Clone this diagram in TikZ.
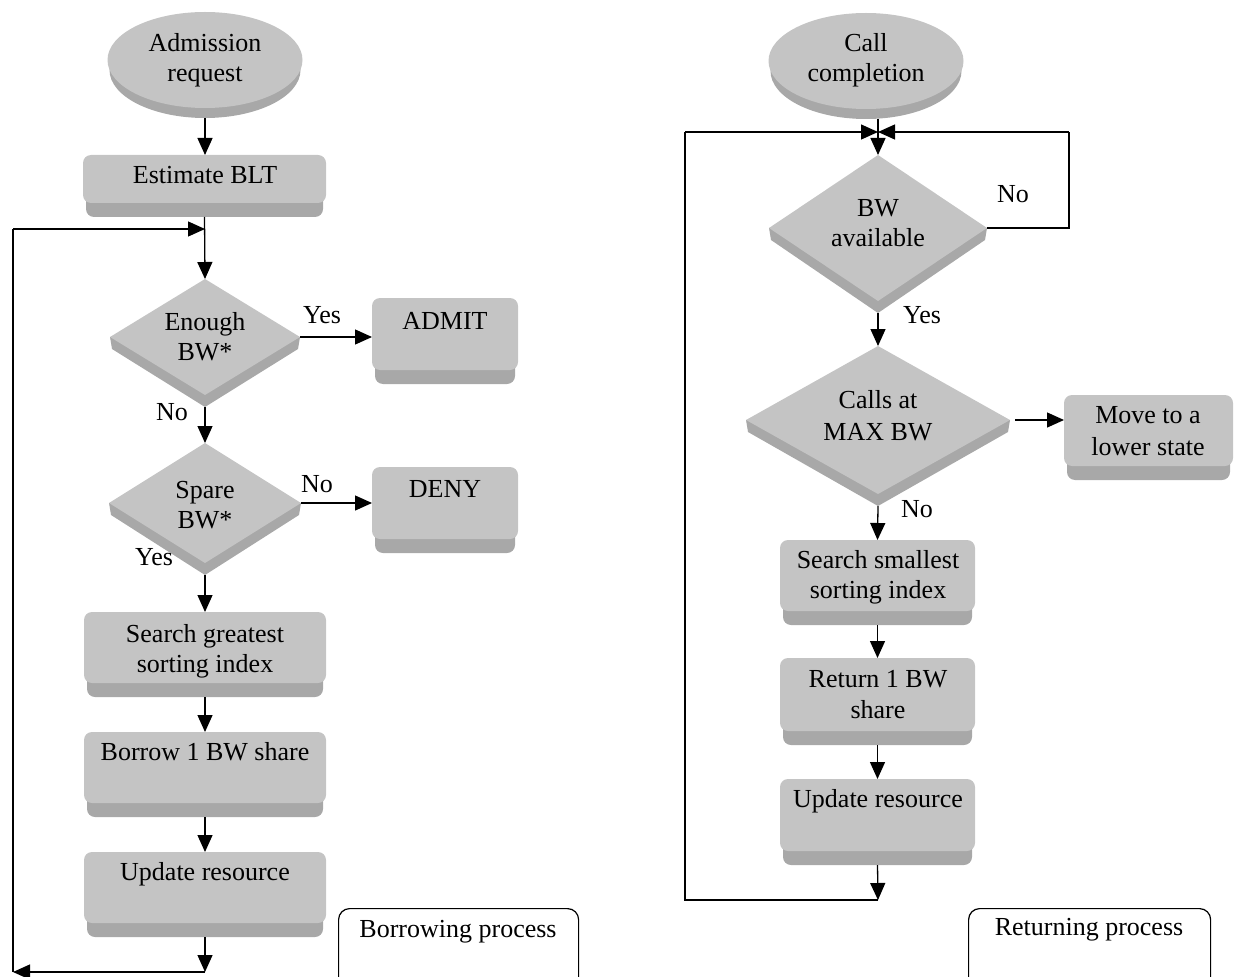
\documentclass[tikz,border=0pt]{standalone}
\usepackage{fontspec}
\setmainfont{Liberation Serif}
\usetikzlibrary{arrows.meta,shapes.geometric}
\definecolor{facec}{HTML}{C4C4C4}
\definecolor{bandc}{HTML}{A8A8A8}
\tikzset{
  lbl/.style={anchor=base, inner sep=0pt, font=\fontsize{26pt}{30pt}\selectfont},
  face/.style={fill=facec, rounded corners=8pt, inner sep=0pt, outer sep=0pt, draw=none},
  band/.style={fill=bandc, rounded corners=8pt, inner sep=0pt, outer sep=0pt, draw=none},
  dface/.style={diamond, fill=facec, inner sep=0pt, outer sep=0pt, draw=none},
  eface/.style={ellipse, fill=facec, inner sep=0pt, outer sep=0pt, draw=none},
  eband/.style={ellipse, fill=bandc, inner sep=0pt, outer sep=0pt, draw=none},
  procbox/.style={draw, line width=1.2pt, rounded corners=11pt, inner sep=0pt, anchor=north west},
  conn/.style={line width=1.3pt},
  arr/.style={line width=1.3pt, -{Triangle[length=17pt,width=15pt]}},
}
% name x1 y1 x2 y2
\newcommand\kbox[5]{%
  \node[band, minimum width={(#4-#2-6)*1pt}, minimum height=28pt] (#1b) at ({(#2+#4)/2},{#5-14}) {};
  \node[face, minimum width={(#4-#2)*1pt}, minimum height={(#5-14-#3)*1pt}] (#1) at ({(#2+#4)/2},{(#3+#5-14)/2}) {};}
% name cx cy w h
\newcommand\kdia[5]{%
  \fill[bandc] (#2-#4,#3) -- (#2-#4+2,#3+12) -- (#2,#3+#5+12) -- (#2+#4-2,#3+12) -- (#2+#4,#3) -- cycle;
  \node[dface, minimum width={2*#4*1pt}, minimum height={2*#5*1pt}] (#1) at (#2,#3) {};}
% name cx cy rx ry
\newcommand\kell[5]{%
  \node[eband, minimum width={(2*#4-4)*1pt}, minimum height={2*#5*1pt}] (#1b) at (#2,#3+10) {};
  \node[eface, minimum width={2*#4*1pt}, minimum height={2*#5*1pt}] (#1) at (#2,#3) {};}
\begin{document}
\begin{tikzpicture}[x=1pt,y=-1pt]
\useasboundingbox (0,0) rectangle (1238,976);
\clip (0,0) rectangle (1238,976);

% ---------------- Left: borrowing process ----------------
\kell{adm}{205}{60}{97.5}{48}
\node[lbl] (tadm1) at (205,52) {Admission};
\node[lbl] (tadm2) at (205,82) {request};

\kbox{blt}{83}{155}{326}{217}
\node[lbl] (tblt) at (205,184) {Estimate BLT};

\kdia{enough}{205}{337}{95}{58}
\node[lbl] (ten1) at (205,330) {Enough};
\node[lbl] (ten2) at (205,360) {BW*};

\kbox{admit}{372}{298}{518}{384}
\node[lbl] (tadmit) at (445,329) {ADMIT};

\kdia{spare}{205}{503}{96}{60}
\node[lbl] (tsp1) at (205,498) {Spare};
\node[lbl] (tsp2) at (205,528) {BW*};

\kbox{deny}{372}{467}{518}{553}
\node[lbl] (tdeny) at (445,497) {DENY};

\kbox{sg}{84}{612}{326}{697}
\node[lbl] (tsg1) at (205,642) {Search greatest};
\node[lbl] (tsg2) at (205,672) {sorting index};

\kbox{bor}{84}{732}{326}{817}
\node[lbl] (tbor) at (205,760) {Borrow 1 BW share};

\kbox{upa}{84}{852}{326}{937}
\node[lbl] (tupa) at (205,880) {Update resource};

\node[procbox, minimum width=240pt, minimum height=110pt] (bp) at (338,908) {};
\node[lbl] (tbp) at (458,937) {Borrowing process};

\coordinate (jl) at (205,229);
\coordinate (bl) at (205,972);
\coordinate (blc) at (13,972);
\coordinate (tlc) at (13,229);

\draw[arr] (admb.south) -- (adm.south |- blt.north);
\draw[arr] (bltb.south) -- (enough.north);
\draw[arr] (tlc) -- (jl);
\draw[conn] (blc) -- (tlc);
\draw[arr] (enough.east) -- (enough.east -| admit.west);
\draw[arr] ([yshift=-12pt]enough.south) -- (spare.north);
\draw[arr] (spare.east) -- (spare.east -| deny.west);
\draw[arr] ([yshift=-12pt]spare.south) -- (sg.north);
\draw[arr] (sgb.south) -- (bor.north);
\draw[arr] (borb.south) -- (upa.north);
\draw[arr] (upab.south) -- (bl);
\draw[arr] (bl) -- (blc);

\node[lbl] (lyes1) at (322,323) {Yes};
\node[lbl] (lno1) at (172,420) {No};
\node[lbl] (lno2) at (317,492) {No};
\node[lbl] (lyes2) at (154,565) {Yes};

% ---------------- Right: returning process ----------------
\kell{cc}{866}{61}{97.5}{48}
\node[lbl] (tcc1) at (866,52) {Call};
\node[lbl] (tcc2) at (866,82) {completion};

\kdia{bwa}{878}{228}{109}{73}
\node[lbl] (tbwa1) at (878,217) {BW};
\node[lbl] (tbwa2) at (878,247) {available};

\kdia{calls}{878}{420}{132}{74}
\node[lbl] (tca1) at (878,408) {Calls at};
\node[lbl] (tca2) at (878,440) {MAX BW};

\kbox{move}{1064}{395}{1233}{480}
\node[lbl] (tmv1) at (1148,423) {Move to a};
\node[lbl] (tmv2) at (1148,455) {lower state};

\kbox{ss}{780}{540}{975}{625}
\node[lbl] (tss1) at (878,568) {Search smallest};
\node[lbl] (tss2) at (878,598) {sorting index};

\kbox{ret}{780}{658}{975}{745}
\node[lbl] (tret1) at (878,687) {Return 1 BW};
\node[lbl] (tret2) at (878,718) {share};

\kbox{upb}{780}{779}{975}{865}
\node[lbl] (tupb) at (878,807) {Update resource};

\node[procbox, minimum width=242pt, minimum height=110pt] (rp) at (968,908) {};
\node[lbl] (trp) at (1089,935) {Returning process};

\coordinate (jr) at (878,132);
\coordinate (trc) at (1069,132);
\coordinate (brc) at (1069,228);
\coordinate (tlr) at (685,132);
\coordinate (blr) at (685,900);
\coordinate (bbr) at (878,900);

\draw[conn] (jr |- ccb.south) -- (jr);
\draw[arr] (jr) -- (bwa.north);
\draw[arr] (tlr) -- (jr);
\draw[arr] (trc) -- (jr);
\draw[conn] (bwa.east) -- (brc) -- (trc);
\draw[arr] ([yshift=-12pt]bwa.south) -- (calls.north);
\draw[arr] ([xshift=5pt]calls.east) -- (calls.east -| move.west);
\draw[arr] ([yshift=-12pt]calls.south) -- (ss.north);
\draw[arr] (ssb.south) -- (ret.north);
\draw[arr] (retb.south) -- (upb.north);
\draw[arr] (upbb.south) -- (bbr);
\draw[conn] (bbr) -- (blr) -- (tlr);

\node[lbl] (rno1) at (1013,203) {No};
\node[lbl] (ryes) at (922,323) {Yes};
\node[lbl] (rno2) at (917,517) {No};
\end{tikzpicture}
\end{document}
